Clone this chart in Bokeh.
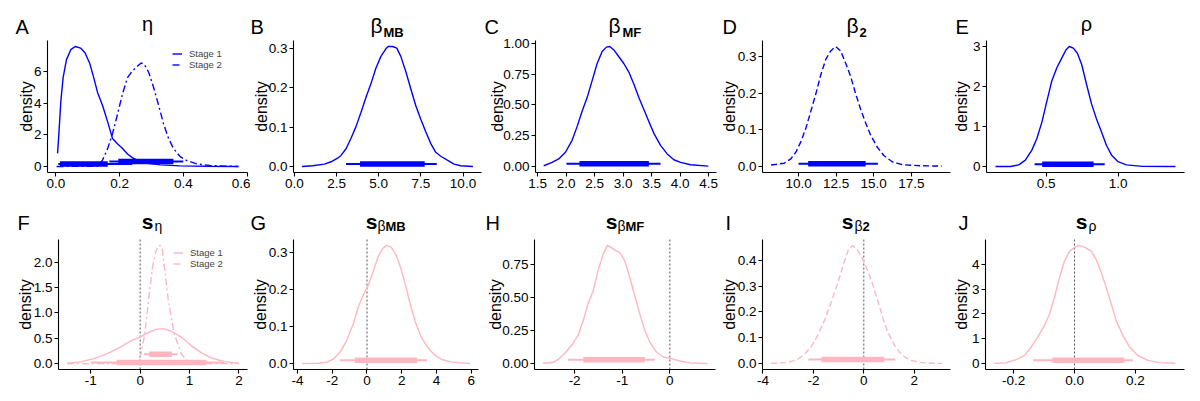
import numpy as np
from bokeh.plotting import figure
from bokeh.layouts import gridplot
from bokeh.models import Range1d, FixedTicker, Label, Legend, LegendItem
from bokeh.embed import file_html
from bokeh.resources import INLINE

BLUE = "#0000FF"
PINK = "#FFB6C1"
FONT = "Liberation Sans"

# ---------------- data ----------------
# A: eta
eta1_x = [0.0056, 0.0097, 0.016, 0.023, 0.0335, 0.047, 0.061, 0.078, 0.092, 0.106, 0.119, 0.131, 0.147,
          0.163, 0.178, 0.194, 0.209, 0.225, 0.240, 0.261, 0.287, 0.328, 0.39, 0.473, 0.573]
eta1_y = [0.83, 2.08, 4.17, 5.63, 6.77, 7.40, 7.60, 7.50, 7.19, 6.56, 5.63, 4.69, 3.85,
          2.81, 1.77, 1.42, 1.15, 0.79, 0.56, 0.35, 0.21, 0.10, 0.04, 0.02, 0.0]
eta2_x = [0.0025, 0.132, 0.147, 0.163, 0.178, 0.194, 0.209, 0.225, 0.24, 0.256, 0.268, 0.278, 0.292,
          0.307, 0.323, 0.338, 0.354, 0.369, 0.39, 0.411, 0.442, 0.483, 0.573]
eta2_y = [0.0, 0.02, 0.42, 1.15, 2.08, 3.33, 4.58, 5.63, 6.04, 6.35, 6.56, 6.46, 5.94,
          5.0, 3.85, 2.71, 1.77, 1.15, 0.63, 0.375, 0.17, 0.06, 0.0]
eta_int = [(0.008, 0.24, 0.013, 0.163, 0.16), (0.168, 0.40, 0.196, 0.369, 0.31)]

# B: beta_MB
bmb_x = [0.45, 1.08, 1.78, 2.17, 2.56, 2.76, 3.06, 3.35, 3.65, 3.94, 4.24, 4.54, 4.83, 5.13, 5.42, 5.56,
         5.82, 6.07, 6.31, 6.61, 6.90, 7.20, 7.50, 7.79, 8.09, 8.38, 8.68, 9.07, 9.47, 9.86, 10.59]
bmb_y = [0.0, 0.002, 0.006, 0.012, 0.021, 0.028, 0.045, 0.071, 0.101, 0.136, 0.175, 0.210, 0.249, 0.279,
         0.298, 0.304, 0.304, 0.300, 0.279, 0.240, 0.197, 0.154, 0.119, 0.088, 0.058, 0.036, 0.026,
         0.016, 0.006, 0.002, 0.0]
bmb_int = [(3.06, 8.44, 3.89, 7.73, 0.0065)]

# C: beta_MF
bmf_x = [1.605, 1.752, 1.869, 1.986, 2.103, 2.191, 2.279, 2.367, 2.455, 2.543, 2.631, 2.707, 2.765, 2.836,
         2.924, 3.011, 3.099, 3.187, 3.275, 3.363, 3.451, 3.539, 3.656, 3.773, 3.890, 4.007, 4.183, 4.494]
bmf_y = [0.006, 0.033, 0.061, 0.116, 0.213, 0.324, 0.449, 0.560, 0.698, 0.837, 0.934, 0.970, 0.975, 0.947,
         0.892, 0.837, 0.767, 0.670, 0.560, 0.463, 0.366, 0.269, 0.172, 0.102, 0.055, 0.033, 0.014, 0.003]
bmf_int = [(2.004, 3.656, 2.232, 3.451, 0.022)]

# D: beta_2
b2_x = [8.17, 9.05, 9.49, 9.82, 10.15, 10.49, 10.82, 11.15, 11.48, 11.81, 12.14, 12.47, 12.80, 13.13,
        13.47, 13.80, 14.13, 14.46, 14.79, 15.23, 15.67, 16.23, 16.89, 18.10, 19.54]
b2_y = [0.004, 0.009, 0.021, 0.039, 0.067, 0.105, 0.151, 0.198, 0.250, 0.292, 0.315, 0.327, 0.315, 0.282,
        0.245, 0.198, 0.156, 0.119, 0.086, 0.053, 0.030, 0.013, 0.005, 0.002, 0.001]
b2_int = [(10.0, 15.28, 10.64, 14.46, 0.0075)]

# E: rho
rho_x = [0.147, 0.251, 0.309, 0.355, 0.40, 0.435, 0.47, 0.505, 0.539, 0.574, 0.608, 0.638, 0.661, 0.689,
         0.717, 0.747, 0.781, 0.816, 0.85, 0.885, 0.919, 0.954, 1.0, 1.058, 1.17, 1.40]
rho_y = [0.0, 0.0, 0.04, 0.16, 0.41, 0.70, 1.11, 1.64, 2.14, 2.47, 2.71, 2.92, 3.0, 2.96, 2.83, 2.55,
         2.05, 1.56, 1.19, 0.86, 0.53, 0.29, 0.12, 0.04, 0.004, 0.0]
rho_int = [(0.419, 0.907, 0.472, 0.830, 0.058)]

# F: s_eta
seta1_x = [-1.48, -1.21, -0.94, -0.665, -0.394, -0.19, 0.0, 0.149, 0.319, 0.455, 0.625, 0.828, 1.03,
           1.24, 1.44, 1.71, 2.0]
seta1_y = [0.007, 0.033, 0.098, 0.197, 0.328, 0.446, 0.525, 0.603, 0.675, 0.689, 0.643, 0.525, 0.36,
           0.21, 0.111, 0.039, 0.007]
seta2_x = [-1.48, -0.26, -0.05, 0.02, 0.095, 0.17, 0.25, 0.32, 0.37, 0.41, 0.45, 0.49, 0.57, 0.69,
           0.83, 0.95, 1.1, 1.575, 2.0]
seta2_y = [0.0, 0.0, 0.03, 0.2, 0.59, 1.25, 1.9, 2.22, 2.32, 2.33, 2.25, 1.9, 1.25, 0.59,
           0.2, 0.06, 0.01, 0.0, 0.0]
seta_int = [(-1.0, 1.7, -0.475, 1.34, 0.02), (0.08, 0.76, 0.18, 0.64, 0.185)]

# G: s_beta_MB
sbmb_x = [-3.75, -2.77, -2.30, -1.92, -1.55, -1.17, -0.79, -0.51, -0.23, 0.057, 0.34, 0.62, 0.91, 1.13,
          1.38, 1.66, 1.94, 2.23, 2.51, 2.79, 3.08, 3.36, 3.64, 3.92, 4.30, 4.87, 5.94]
sbmb_y = [0.0, 0.001, 0.004, 0.013, 0.031, 0.062, 0.107, 0.151, 0.183, 0.209, 0.245, 0.285, 0.31, 0.318,
          0.314, 0.294, 0.258, 0.209, 0.156, 0.111, 0.076, 0.053, 0.036, 0.022, 0.011, 0.004, 0.0]
sbmb_int = [(-1.58, 3.45, -0.70, 2.89, 0.009)]

# H: s_beta_MF
sbmf_x = [-2.67, -2.46, -2.32, -2.18, -2.04, -1.93, -1.82, -1.72, -1.61, -1.51, -1.40, -1.31, -1.23,
          -1.12, -1.05, -0.947, -0.842, -0.737, -0.632, -0.526, -0.421, -0.281, -0.14, 0.035, 0.21, 0.42, 0.786]
sbmf_y = [0.003, 0.008, 0.038, 0.088, 0.151, 0.214, 0.327, 0.453, 0.554, 0.705, 0.831, 0.899, 0.882,
          0.856, 0.844, 0.781, 0.655, 0.516, 0.378, 0.252, 0.164, 0.088, 0.05, 0.038, 0.02, 0.005, 0.0]
sbmf_int = [(-2.14, -0.316, -1.82, -0.526, 0.03)]

# I: s_beta_2
sb2_x = [-3.68, -3.03, -2.63, -2.36, -2.09, -1.82, -1.55, -1.28, -1.01, -0.81, -0.606, -0.445, -0.27,
         -0.067, 0.135, 0.337, 0.539, 0.741, 0.943, 1.21, 1.48, 1.82, 2.36, 3.10]
sb2_y = [0.001, 0.004, 0.016, 0.036, 0.065, 0.111, 0.169, 0.241, 0.319, 0.384, 0.443, 0.458, 0.443,
         0.41, 0.365, 0.3125, 0.247, 0.182, 0.124, 0.072, 0.036, 0.013, 0.003, 0.0]
sb2_int = [(-2.20, 1.25, -1.68, 0.81, 0.016)]

# J: s_rho
srho_x = [-0.263, -0.225, -0.192, -0.164, -0.142, -0.121, -0.099, -0.082, -0.066, -0.049, -0.033, -0.016,
          0.0, 0.014, 0.033, 0.055, 0.071, 0.088, 0.104, 0.121, 0.137, 0.159, 0.181, 0.208, 0.241, 0.279, 0.332]
srho_y = [0.013, 0.027, 0.16, 0.33, 0.67, 1.07, 1.53, 2.0, 2.67, 3.47, 4.13, 4.53, 4.67, 4.76, 4.69,
          4.53, 4.2, 3.67, 3.07, 2.4, 1.73, 1.13, 0.67, 0.33, 0.13, 0.04, 0.013]
srho_int = [(-0.137, 0.192, -0.073, 0.164, 0.13)]

# ticks
A_xt = [0.0, 0.2, 0.4, 0.6];          A_xl = ["0.0", "0.2", "0.4", "0.6"]
A_yt = [0, 2, 4, 6];                  A_yl = ["0", "2", "4", "6"]
B_xt = [0.0, 2.5, 5.0, 7.5, 10.0];    B_xl = ["0.0", "2.5", "5.0", "7.5", "10.0"]
B_yt = [0.0, 0.1, 0.2, 0.3];          B_yl = ["0.0", "0.1", "0.2", "0.3"]
C_xt = [1.5, 2.0, 2.5, 3.0, 3.5, 4.0, 4.5]; C_xl = ["1.5", "2.0", "2.5", "3.0", "3.5", "4.0", "4.5"]
C_yt = [0.0, 0.25, 0.5, 0.75, 1.0];   C_yl = ["0.00", "0.25", "0.50", "0.75", "1.00"]
D_xt = [10.0, 12.5, 15.0, 17.5];      D_xl = ["10.0", "12.5", "15.0", "17.5"]
D_yt = [0.0, 0.1, 0.2, 0.3];          D_yl = ["0.0", "0.1", "0.2", "0.3"]
E_xt = [0.5, 1.0];                    E_xl = ["0.5", "1.0"]
E_yt = [0, 1, 2, 3];                  E_yl = ["0", "1", "2", "3"]
F_xt = [-1, 0, 1, 2];                 F_xl = ["-1", "0", "1", "2"]
F_yt = [0.0, 0.5, 1.0, 1.5, 2.0];     F_yl = ["0.0", "0.5", "1.0", "1.5", "2.0"]
G_xt = [-4, -2, 0, 2, 4, 6];          G_xl = ["-4", "-2", "0", "2", "4", "6"]
G_yt = [0.0, 0.1, 0.2, 0.3];          G_yl = ["0.0", "0.1", "0.2", "0.3"]
H_xt = [-2, -1, 0];                   H_xl = ["-2", "-1", "0"]
H_yt = [0.0, 0.25, 0.5, 0.75];        H_yl = ["0.00", "0.25", "0.50", "0.75"]
I_xt = [-4, -2, 0, 2];                I_xl = ["-4", "-2", "0", "2"]
I_yt = [0.0, 0.1, 0.2, 0.3, 0.4];     I_yl = ["0.0", "0.1", "0.2", "0.3", "0.4"]
J_xt = [-0.2, 0.0, 0.2];              J_xl = ["-0.2", "0.0", "0.2"]
J_yt = [0, 1, 2, 3, 4];               J_yl = ["0", "1", "2", "3", "4"]

SOLID = "solid"
DASHDOT = "7 3 2 3"
DASHED = "6 3"

# figure boundaries in picture pixels (columns / rows)
COLS = [0, 250, 482, 720, 952, 1200]
ROWS = [0, 196, 396]


def make_panel(ci, ri, rect, curves, intervals, color, xt, xl, yt, yl,
               letter, letter_pos, dens_pos, title_parts, zero=False, legend=None):
    X0, X1 = COLS[ci], COLS[ci + 1]
    Y0, Y1 = ROWS[ri], ROWS[ri + 1]
    W, H = X1 - X0, Y1 - Y0
    PL, PR, PT, PB = rect
    pl, pr, pt, pb = PL - X0, PR - X0, PT - Y0, PB - Y0
    xs_all = [c[0] for c in curves]
    ys_all = [c[1] for c in curves]
    x0 = min(min(x) for x in xs_all)
    x1 = max(max(x) for x in xs_all)
    span = x1 - x0
    ymax = max(max(y) for y in ys_all)
    xa, xb = x0 - 0.05 * span, x1 + 0.05 * span
    ya, yb = -0.05 * ymax, 1.05 * ymax
    ux = (xb - xa) / (pr - pl)
    uy = (yb - ya) / (pb - pt)
    p = figure(width=W, height=H, output_backend="svg", toolbar_location=None,
               x_range=Range1d(xa - pl * ux, xb + (W - pr) * ux),
               y_range=Range1d(ya - (H - pb) * uy, yb + pt * uy),
               min_border=0, min_border_left=0, min_border_right=0,
               min_border_top=0, min_border_bottom=0)
    p.title.visible = False
    p.outline_line_color = None
    p.grid.visible = False
    p.background_fill_color = "white"
    p.border_fill_color = "white"
    p.xaxis.fixed_location = ya
    p.xaxis.bounds = (xa, xb)
    p.yaxis.fixed_location = xa
    p.yaxis.bounds = (ya, yb)
    for ax, ticks, labels in ((p.xaxis, xt, xl), (p.yaxis, yt, yl)):
        ax.ticker = FixedTicker(ticks=ticks)
        ax.major_label_overrides = dict(zip(ticks, labels))
        ax.axis_line_color = "black"
        ax.axis_line_width = 1.1
        ax.major_tick_line_color = "black"
        ax.major_tick_line_width = 1.1
        ax.major_tick_out = 4
        ax.major_tick_in = 0
        ax.minor_tick_line_color = None
        ax.major_label_text_font = FONT
        ax.major_label_text_font_size = "13.5px"
        ax.major_label_text_color = "black"
        ax.major_label_standoff = 2
    if zero:
        p.segment(x0=[0], y0=[ya], x1=[0], y1=[yb], line_color="#555555",
                  line_dash="2 2", line_width=1)
    rends = []
    for (cx, cy, dash) in curves:
        r = p.line(cx, cy, line_color=color, line_width=1.4, line_dash=dash)
        rends.append(r)
    for (tlo, thi, klo, khi, yy) in intervals:
        p.segment(x0=[tlo], y0=[yy], x1=[thi], y1=[yy], line_color=color, line_width=2)
        p.segment(x0=[klo], y0=[yy], x1=[khi], y1=[yy], line_color=color, line_width=5.5,
                  line_cap="butt")

    def sx(ax_):
        return ax_ - X0

    def sy(ay_):
        return Y1 - ay_

    if legend is not None:
        lx, ltop = legend
        lg = Legend(items=[LegendItem(label="Stage 1", renderers=[rends[0]]),
                           LegendItem(label="Stage 2", renderers=[rends[1]])],
                    location=(sx(lx), sy(ltop + 19)), orientation="vertical")
        lg.background_fill_alpha = 0
        lg.border_line_color = None
        lg.label_text_font = FONT
        lg.label_text_font_size = "9.5px"
        lg.label_text_line_height = 1.0
        lg.glyph_width = 10
        lg.glyph_height = 9
        lg.label_height = 9
        lg.spacing = 0
        lg.padding = 0
        lg.margin = 0
        lg.label_standoff = 7
        p.add_layout(lg)
    # texts
    p.add_layout(Label(x=sx(letter_pos[0]), y=sy(letter_pos[1]), x_units="screen",
                       y_units="screen", text=letter, text_font=FONT, text_font_size="20px",
                       text_align="left", text_baseline="alphabetic", text_color="black"))
    p.add_layout(Label(x=sx(dens_pos[0]), y=sy(dens_pos[1]), x_units="screen",
                       y_units="screen", text="density", angle=np.pi / 2, text_font=FONT,
                       text_font_size="16px", text_align="center", text_baseline="middle",
                       text_color="black"))
    for (txt, tx, ty, align, size, style) in title_parts:
        p.add_layout(Label(x=sx(tx), y=sy(ty), x_units="screen", y_units="screen", text=txt,
                           text_font=FONT, text_font_size=f"{size}px", text_font_style=style,
                           text_align=align, text_baseline="alphabetic", text_color="black"))
    return p


R1T, R1B = 40, 172
R2T, R2B = 239, 369
R1M = (R1T + R1B) / 2
R2M = (R2T + R2B) / 2
L1, L2 = 26, 222          # letter baselines
T1, S1 = 23.5, 31.5       # row-1 title / subscript baselines
T2, S2 = 221, 225.5       # row-2 title / subscript baselines

pA = make_panel(0, 0, (47, 247, R1T, R1B),
                [(eta1_x, eta1_y, SOLID), (eta2_x, eta2_y, DASHDOT)], eta_int, BLUE,
                A_xt, A_xl, A_yt, A_yl, "A", (15, L1), (25.5, R1M),
                [("η", 147, T1, "center", 20, "normal")], legend=(172, 50.5))
pB = make_panel(1, 0, (293, 481, R1T, R1B), [(bmb_x, bmb_y, SOLID)], bmb_int, BLUE,
                B_xt, B_xl, B_yt, B_yl, "B", (250, L1), (261, R1M),
                [("β", 382, T1 + 1, "right", 21, "normal"), ("MB", 383, S1, "left", 13, "bold")])
pC = make_panel(2, 0, (535, 716, R1T, R1B), [(bmf_x, bmf_y, SOLID)], bmf_int, BLUE,
                C_xt, C_xl, C_yt, C_yl, "C", (484, L1), (497, R1M),
                [("β", 620, T1 + 1, "right", 21, "normal"), ("MF", 622, S1, "left", 13, "bold")])
pD = make_panel(3, 0, (762, 950, R1T, R1B), [(b2_x, b2_y, DASHED)], b2_int, BLUE,
                D_xt, D_xl, D_yt, D_yl, "D", (722, L1), (729, R1M),
                [("β", 858, T1 + 1, "right", 21, "normal"), ("2", 859, S1, "left", 13, "bold")])
pE = make_panel(4, 0, (986, 1184, R1T, R1B), [(rho_x, rho_y, SOLID)], rho_int, BLUE,
                E_xt, E_xl, E_yt, E_yl, "E", (955, L1), (961, R1M),
                [("ρ", 1086, T1, "center", 20, "normal")])

pF = make_panel(0, 1, (58, 247, R2T, R2B),
                [(seta1_x, seta1_y, SOLID), (seta2_x, seta2_y, DASHDOT)], seta_int, PINK,
                F_xt, F_xl, F_yt, F_yl, "F", (17, L2), (25, R2M),
                [("s", 153, T2, "right", 21, "bold"), ("η", 154, S2, "left", 14, "normal")],
                zero=True, legend=(173, 249.5))
pG = make_panel(1, 1, (293, 478, R2T, R2B), [(sbmb_x, sbmb_y, SOLID)], sbmb_int, PINK,
                G_xt, G_xl, G_yt, G_yl, "G", (250, L2), (260, R2M),
                [("s", 377, T2, "right", 21, "bold"), ("β", 377, S2, "left", 14, "normal"),
                 ("MB", 385, S2, "left", 13, "bold")], zero=True)
pH = make_panel(2, 1, (534, 715, R2T, R2B), [(sbmf_x, sbmf_y, SOLID)], sbmf_int, PINK,
                H_xt, H_xl, H_yt, H_yl, "H", (485, L2), (495, R2M),
                [("s", 617, T2, "right", 21, "bold"), ("β", 617, S2, "left", 14, "normal"),
                 ("MF", 625, S2, "left", 13, "bold")], zero=True)
pI = make_panel(3, 1, (762, 950, R2T, R2B), [(sb2_x, sb2_y, DASHED)], sb2_int, PINK,
                I_xt, I_xl, I_yt, I_yl, "I", (725, L2), (729, R2M),
                [("s", 853, T2, "right", 21, "bold"), ("β", 854, S2, "left", 14, "normal"),
                 ("2", 862, S2, "left", 13, "bold")], zero=True)
pJ = make_panel(4, 1, (985, 1184, R2T, R2B), [(srho_x, srho_y, SOLID)], srho_int, PINK,
                J_xt, J_xl, J_yt, J_yl, "J", (958, L2), (961, R2M),
                [("s", 1087, T2, "right", 21, "bold"), ("ρ", 1088, S2, "left", 14, "normal")],
                zero=True)

grid = gridplot([[pA, pB, pC, pD, pE], [pF, pG, pH, pI, pJ]], toolbar_location=None)

open("out.html", "w").write(file_html(grid, INLINE))
